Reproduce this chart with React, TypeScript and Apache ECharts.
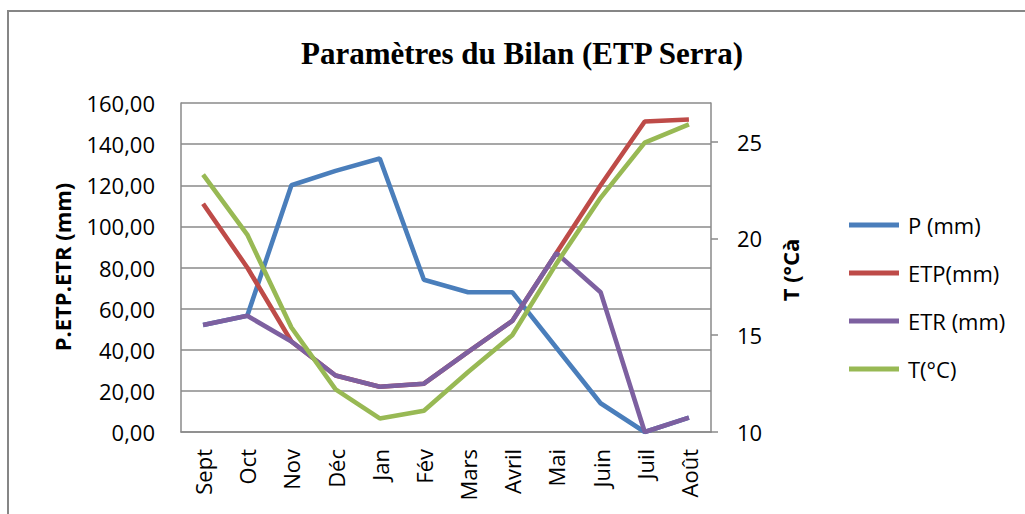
import React, { useEffect, useRef } from "react";
import * as echarts from "echarts";

const months = ["Sept", "Oct", "Nov", "Déc", "Jan", "Fév", "Mars", "Avril", "Mai", "Juin", "Juil", "Août"];
const pValues = [52, 56.5, 120, 127, 133, 74, 68, 68, 41, 14, 0, 7];
const etpValues = [111, 80, 44, 27.5, 22, 23.5, 39, 54, 87, 120, 151, 152];
const etrValues = [52, 56.5, 44, 27.5, 22, 23.5, 39, 54, 87, 68, 0, 7];
const tValues = [23.3, 20.2, 15.4, 12.2, 10.7, 11.1, 13.1, 15.0, 18.7, 22.1, 24.95, 25.9];
const rightTicks = [10, 15, 20, 25];

const seriesNames = ["P (mm)", "ETP(mm)", "ETR (mm)", "T(°C)"];
const colors = ["#4A7EBB", "#BE4B48", "#7D60A0", "#98B954"];

const FONT = "'Open Sans', 'DejaVu Sans', sans-serif";
const GRID_GRAY = "#8a8a8a";

export default function App() {
  const ref = useRef<HTMLDivElement>(null);
  useEffect(() => {
    document.body.style.margin = "0";
    if (!ref.current) return;
    const chart = echarts.init(ref.current, null, { renderer: "svg" });
    const lineSeries = (name: string, data: number[], color: string, yAxisIndex = 0) => ({
      name,
      type: "line",
      data,
      yAxisIndex,
      symbol: "none",
      lineStyle: { color, width: 4.6 },
      itemStyle: { color },
      z: 2,
    });
    chart.setOption({
      animation: false,
      backgroundColor: "#ffffff",
      textStyle: { fontFamily: FONT },
      grid: { left: 181, top: 103, width: 530, height: 329 },
      graphic: [
        {
          type: "rect",
          shape: { x: 8, y: 11, width: 1100, height: 600 },
          style: { fill: "none", stroke: "#868686", lineWidth: 2 },
          silent: true,
        },
        {
          type: "text",
          x: 522,
          y: 53,
          style: {
            text: "Paramètres du Bilan (ETP Serra)",
            font: "bold 31px 'Liberation Serif', 'Times New Roman', serif",
            fill: "#000",
            textAlign: "center",
            textVerticalAlign: "middle",
          },
        },
        {
          type: "text",
          x: 62,
          y: 267,
          rotation: Math.PI / 2,
          style: {
            text: "P.ETP.ETR (mm)",
            font: "bold 22px " + FONT,
            fill: "#000",
            textAlign: "center",
            textVerticalAlign: "middle",
          },
        },
        {
          type: "text",
          x: 790,
          y: 270,
          rotation: Math.PI / 2,
          style: {
            text: "T (°Cà",
            font: "bold 22px " + FONT,
            fill: "#000",
            textAlign: "center",
            textVerticalAlign: "middle",
          },
        },
      ],
      legend: {
        orient: "vertical",
        left: 849,
        top: 213,
        padding: 0,
        itemWidth: 50,
        itemHeight: 5,
        itemGap: 24,
        icon: "rect",
        data: seriesNames,
        textStyle: { fontFamily: FONT, fontSize: 22, color: "#000", lineHeight: 24, padding: [0, 0, 0, 4] },
      },
      xAxis: {
        type: "category",
        data: months,
        boundaryGap: true,
        axisLine: { show: true, lineStyle: { color: GRID_GRAY, width: 1.5 } },
        axisTick: { show: false },
        axisLabel: { rotate: 90, margin: 17, fontFamily: FONT, fontSize: 22, color: "#000", interval: 0 },
        splitLine: { show: false },
      },
      yAxis: [
        {
          type: "value",
          min: 0,
          max: 160,
          interval: 20,
          axisLine: { show: true, lineStyle: { color: GRID_GRAY, width: 1.5 } },
          axisTick: { show: false },
          axisLabel: {
            margin: 26,
            fontFamily: FONT,
            fontSize: 22,
            color: "#000",
            formatter: (v: number) => v.toFixed(2).replace(".", ","),
          },
          splitLine: { show: true, lineStyle: { color: GRID_GRAY, width: 1.5 } },
        },
        {
          type: "value",
          position: "right",
          min: 10,
          max: 27,
          interval: 5,
          axisLine: { show: true, lineStyle: { color: GRID_GRAY, width: 1.5 } },
          axisTick: {
            show: true,
            inside: false,
            length: 7,
            customValues: rightTicks,
            lineStyle: { color: GRID_GRAY, width: 1.5 },
          },
          axisLabel: {
            margin: 26,
            fontFamily: FONT,
            fontSize: 22,
            color: "#000",
            customValues: rightTicks,
          },
          splitLine: { show: false },
        },
      ],
      series: [
        lineSeries(seriesNames[0], pValues, colors[0]),
        lineSeries(seriesNames[1], etpValues, colors[1]),
        lineSeries(seriesNames[2], etrValues, colors[2]),
        lineSeries(seriesNames[3], tValues, colors[3], 1),
      ],
    });
    return () => chart.dispose();
  }, []);
  return <div ref={ref} style={{ width: 1025, height: 514 }} />;
}
